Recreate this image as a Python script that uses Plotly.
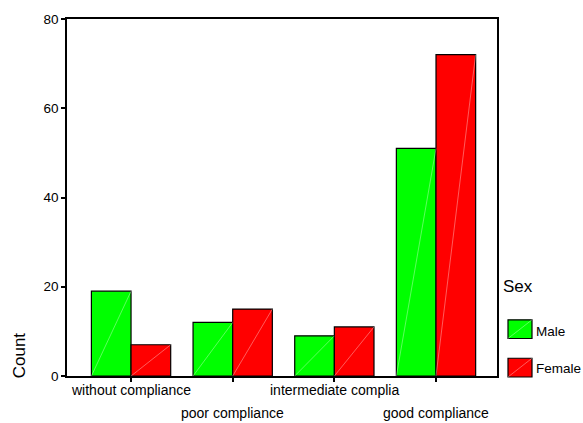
import plotly.graph_objects as go

categories = ["without compliance", "poor compliance", "intermediate complia", "good compliance"]
male = [19, 12, 9, 51]
female = [7, 15, 11, 72]
series_names = ["Male", "Female"]
series_colors = ["#00FF00", "#FF0000"]
y_ticks = [0, 20, 40, 60, 80]

FONT = "Liberation Sans, Arial, sans-serif"
W, H = 583, 423
L, R, T, B = 67, 86, 14, 47
pw, ph = W - L - R, H - T - B
BARGAP = 0.22

def px2x(px):
    return (px - L) / pw

def py2y(py):
    return (H - B - py) / ph

fig = go.Figure()
n_series = len(series_names)
bw = (1 - BARGAP) / n_series
for k, (name, vals, col) in enumerate(zip(series_names, [male, female], series_colors)):
    fig.add_trace(go.Bar(
        x=list(range(len(categories))), y=vals, name=name,
        marker=dict(color=col, line=dict(color="black", width=1.2)),
        showlegend=False,
    ))
for k, vals in enumerate([male, female]):
    xs, ys = [], []
    for i, v in enumerate(vals):
        left = i - (1 - BARGAP) / 2 + k * bw
        xs += [left, left + bw, None]
        ys += [0, v, None]
    fig.add_trace(go.Scatter(
        x=xs, y=ys, mode="lines", line=dict(color="rgba(255,255,255,0.45)", width=0.8),
        hoverinfo="skip", showlegend=False,
    ))

fig.update_layout(
    width=W, height=H,
    margin=dict(l=L, r=R, t=T, b=B),
    paper_bgcolor="white", plot_bgcolor="white",
    barmode="group", bargap=BARGAP, bargroupgap=0,
    font=dict(family=FONT, color="black"),
    xaxis=dict(
        range=[-0.63, 3.6], tickvals=list(range(len(categories))), ticktext=[""] * len(categories),
        ticks="outside", ticklen=4, tickwidth=2, tickcolor="black",
        showline=True, linecolor="black", linewidth=1.5, mirror=True,
        showgrid=False, zeroline=False,
    ),
    yaxis=dict(
        range=[0, 80], tickvals=y_ticks, ticks="outside", ticklen=4, tickwidth=2,
        tickcolor="black", tickfont=dict(size=13.5, family=FONT),
        showline=True, linecolor="black", linewidth=1.5, mirror=True,
        showgrid=False, zeroline=False,
    ),
)

annotations = []
for i, c in enumerate(categories):
    annotations.append(dict(
        x=i, xref="x", y=0, yref="paper", yshift=-14 if i % 2 == 0 else -37,
        text=c, showarrow=False, font=dict(size=14, family=FONT),
        xanchor="center", yanchor="middle",
    ))
annotations.append(dict(
    x=px2x(19), y=py2y(355), xref="paper", yref="paper", text="Count",
    textangle=-90, showarrow=False, font=dict(size=17, family=FONT),
    xanchor="center", yanchor="middle",
))
annotations.append(dict(
    x=px2x(501), y=py2y(285), xref="paper", yref="paper", text="Sex",
    showarrow=False, font=dict(size=17, family=FONT), xanchor="left", yanchor="middle",
))
shapes = []
label_y = [331, 368]
for k, (name, col) in enumerate(zip(series_names, series_colors)):
    y0 = 319 + 39 * k
    shapes.append(dict(
        type="rect", xref="paper", yref="paper",
        x0=px2x(508), x1=px2x(532), y0=py2y(y0 + 19), y1=py2y(y0),
        fillcolor=col, line=dict(color="black", width=1.2),
    ))
    shapes.append(dict(
        type="line", xref="paper", yref="paper",
        x0=px2x(508), x1=px2x(532), y0=py2y(y0 + 19), y1=py2y(y0),
        line=dict(color="rgba(255,255,255,0.45)", width=0.8),
    ))
    annotations.append(dict(
        x=px2x(534), y=py2y(label_y[k]), xref="paper", yref="paper", text=name,
        showarrow=False, font=dict(size=13.5, family=FONT), xanchor="left", yanchor="middle",
    ))
fig.update_layout(annotations=annotations, shapes=shapes)

fig.write_html(
    "out.html",
    config={"displayModeBar": False},
    post_script="document.body.style.margin='0';document.body.style.overflow='hidden';",
)
